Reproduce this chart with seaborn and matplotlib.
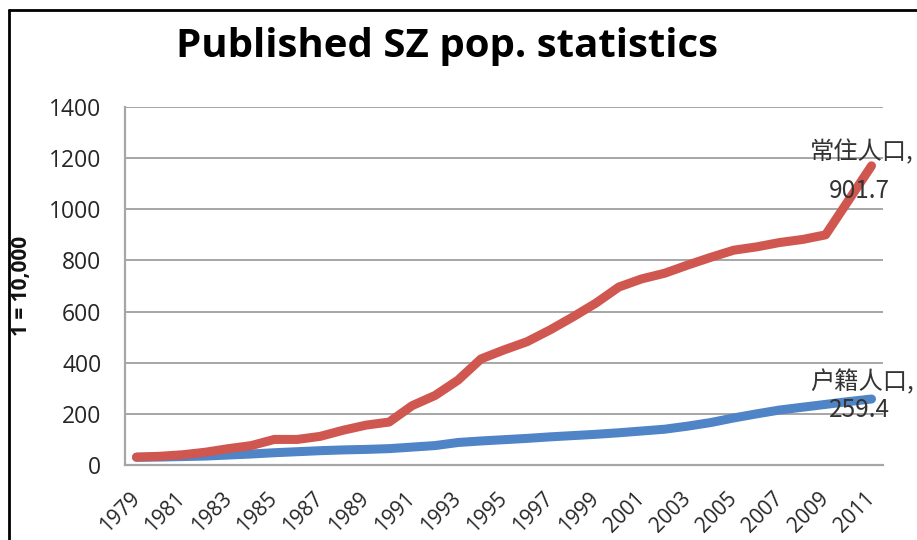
import matplotlib
matplotlib.use("Agg")
import matplotlib.pyplot as plt
import seaborn as sns
import pandas as pd
from matplotlib.lines import Line2D

years = [1979, 1980, 1981, 1982, 1983, 1984, 1985, 1986, 1987, 1988, 1989,
         1990, 1991, 1992, 1993, 1994, 1995, 1996, 1997, 1998, 1999, 2000,
         2001, 2002, 2003, 2004, 2005, 2006, 2007, 2008, 2009, 2010, 2011]
resident = [31, 34, 40, 50, 64, 76, 100, 100, 112, 136, 156,
            168, 232, 272, 332, 415, 450, 482, 528, 579, 633, 696,
            728, 750, 782, 812, 840, 853, 870, 882, 900, 1035, 1170]
hukou = [30, 31, 33, 35, 39, 43, 48, 52, 56, 59, 61,
         64, 70, 76, 88, 94, 99, 104, 110, 115, 120, 126,
         133, 140, 152, 166, 184, 200, 215, 226, 237, 248, 258]
series_names = ["常住人口", "户籍人口"]
end_labels = ["901.7", "259.4"]
tick_years = [1979, 1981, 1983, 1985, 1987, 1989, 1991, 1993, 1995, 1997,
              1999, 2001, 2003, 2005, 2007, 2009, 2011]
y_ticks = [0, 200, 400, 600, 800, 1000, 1200, 1400]
title = "Published SZ pop. statistics"
y_label = "1 = 10,000"

sns.set_theme(style="white")
plt.rcParams['font.family'] = ['Open Sans', 'Noto Sans CJK SC', 'DejaVu Sans']

df = pd.DataFrame({
    "year": years * 2,
    "value": resident + hukou,
    "series": [series_names[0]] * len(years) + [series_names[1]] * len(years),
})

fig = plt.figure(figsize=(9.17, 5.4), dpi=100)
ax = fig.add_axes([125 / 917, 1 - 465 / 540, (883 - 125) / 917, (465 - 107) / 540])

palette = {series_names[0]: "#D0574F", series_names[1]: "#4F84C6"}
sns.lineplot(data=df, x="year", y="value", hue="series", palette=palette,
             hue_order=[series_names[1], series_names[0]],
             linewidth=6.5, ax=ax, legend=False, solid_capstyle="round")

ax.set_xlim(1978.5, 2011.5)
ax.set_ylim(0, 1400)
ax.set_yticks(y_ticks)
ax.set_yticklabels([str(v) for v in y_ticks], fontsize=16.5, color="#262626")
ax.set_xticks(tick_years)
ax.set_xticklabels([str(y) for y in tick_years], rotation=45, ha="right",
                   va="center", rotation_mode="anchor", fontsize=15, color="#262626")
ax.tick_params(axis="y", length=0, pad=17)
ax.tick_params(axis="x", length=0, pad=22)
ax.set_xlabel("")
ax.set_ylabel("")

ax.grid(axis="y", color="#A6A6A6", linewidth=1.4)
ax.set_axisbelow(True)
for s in ["top", "right"]:
    ax.spines[s].set_visible(False)
for s in ["left", "bottom"]:
    ax.spines[s].set_color("#A6A6A6")
    ax.spines[s].set_linewidth(1.6)

fig.text(22 / 917, 1 - 286 / 540, y_label, rotation=90, ha="center", va="center",
         fontsize=15, fontweight="bold", color="#111111")

cjk = ['Noto Sans CJK SC', 'DejaVu Sans']
ax.annotate(series_names[0] + ",", xy=(years[-1], resident[-1]), xytext=(-7, 9.5),
            textcoords="offset points", ha="center", va="center", fontsize=17.5,
            family=cjk, color="#333333", annotation_clip=False, zorder=5)
ax.annotate(end_labels[0], xy=(years[-1], resident[-1]), xytext=(-9, -18),
            textcoords="offset points", ha="center", va="center", fontsize=17.5,
            family=cjk, color="#333333", annotation_clip=False, zorder=5)
ax.annotate(series_names[1] + ",", xy=(years[-1], hukou[-1]), xytext=(-7, 12),
            textcoords="offset points", ha="center", va="center", fontsize=17.5,
            family=cjk, color="#333333", annotation_clip=False, zorder=5)
ax.annotate(end_labels[1], xy=(years[-1], hukou[-1]), xytext=(-9, -8),
            textcoords="offset points", ha="center", va="center", fontsize=17.5,
            family=cjk, color="#333333", annotation_clip=False, zorder=5)

fig.text(447 / 917, 1 - 46 / 540, title, ha="center", va="center",
         fontsize=29, fontweight="bold", color="#000000")

# outer frame (left and top edges visible)
fig.add_artist(Line2D([9 / 917, 9 / 917], [0, 1 - 10 / 540], transform=fig.transFigure,
                      color="black", linewidth=2))
fig.add_artist(Line2D([9 / 917, 1], [1 - 10 / 540, 1 - 10 / 540], transform=fig.transFigure,
                      color="black", linewidth=2))

fig.savefig("out.png", dpi=100, facecolor="white")
